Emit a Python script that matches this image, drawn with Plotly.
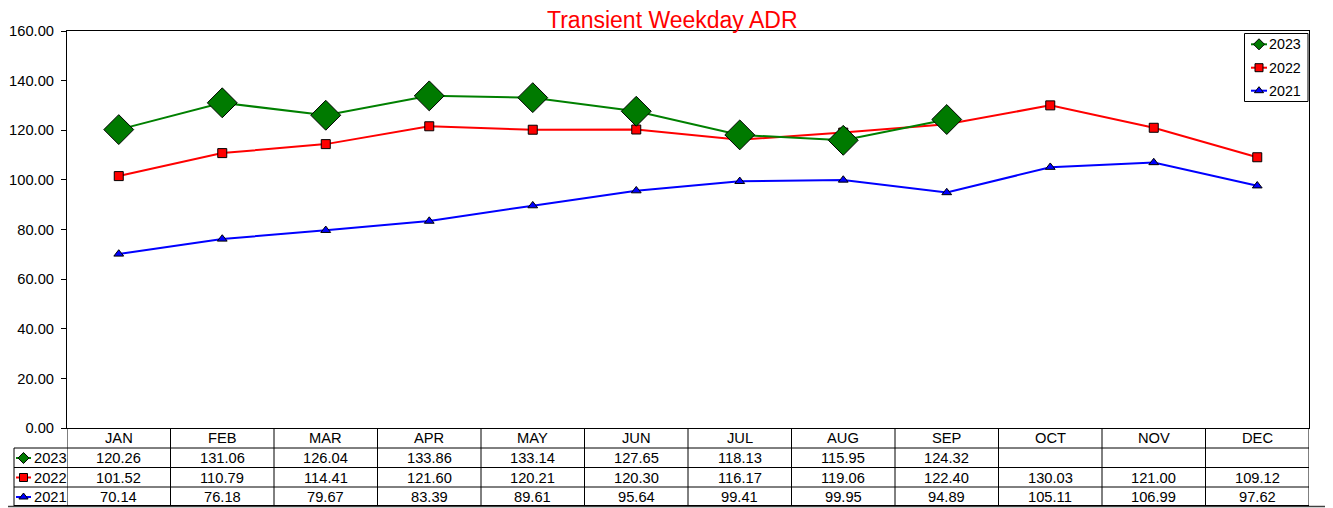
import plotly.graph_objects as go

# ---------------- data ----------------
months = ["JAN", "FEB", "MAR", "APR", "MAY", "JUN", "JUL", "AUG", "SEP", "OCT", "NOV", "DEC"]
years = ["2023", "2022", "2021"]
adr_2023 = [120.26, 131.06, 126.04, 133.86, 133.14, 127.65, 118.13, 115.95, 124.32]
adr_2022 = [101.52, 110.79, 114.41, 121.60, 120.21, 120.30, 116.17, 119.06, 122.40, 130.03, 121.00, 109.12]
adr_2021 = [70.14, 76.18, 79.67, 83.39, 89.61, 95.64, 99.41, 99.95, 94.89, 105.11, 106.99, 97.62]
title_text = "Transient Weekday ADR"

# ---------------- styles ----------------
VW, VH = 1333, 508           # browser window
OFF = 8                      # page body margin
W, H = VW - OFF, VH - OFF    # figure size so it fits the window exactly
PL, PR, PT, PB = 67, 1309, 31, 428     # plot area in window pixels
FONT = "Liberation Sans, Arial, sans-serif"
FS = 14.7

styles = {
    "2023": dict(color="#008000", fill="#007A00", symbol="diamond", size=23, key_size=8.5),
    "2022": dict(color="#FF0000", fill="#FF0000", symbol="square", size=9, key_size=8),
    "2021": dict(color="#0000FF", fill="#0000FF", symbol="triangle-up", size=8.5, key_size=8),
}
series = {"2023": adr_2023, "2022": adr_2022, "2021": adr_2021}

fig = go.Figure()

# data traces on main axes
for yr in ["2021", "2022", "2023"]:
    s = styles[yr]
    vals = series[yr]
    fig.add_trace(go.Scatter(
        x=months[:len(vals)], y=vals, mode="lines+markers", name=yr,
        line=dict(color=s["color"], width=2),
        marker=dict(symbol=s["symbol"], size=s["size"], color=s["fill"],
                    line=dict(color="#000000", width=1)),
        showlegend=False, xaxis="x", yaxis="y", cliponaxis=False,
    ))

# helper for key glyphs (window-pixel overlay axes)
def add_key(yr, x0, x1, yc):
    s = styles[yr]
    xm = (x0 + x1) / 2
    fig.add_trace(go.Scatter(
        x=[x0, x1], y=[yc, yc], mode="lines", line=dict(color=s["color"], width=2),
        showlegend=False, hoverinfo="skip", xaxis="x2", yaxis="y2", cliponaxis=False))
    fig.add_trace(go.Scatter(
        x=[xm], y=[yc], mode="markers",
        marker=dict(symbol=s["symbol"], size=s["key_size"], color=s["fill"],
                    line=dict(color="#000000", width=1)),
        showlegend=False, hoverinfo="skip", xaxis="x2", yaxis="y2", cliponaxis=False))

shapes = []
annotations = []

# outer chart border (bottom edge visible)
shapes.append(dict(type="line", xref="x2", yref="y2", x0=OFF, x1=VW, y0=506.5, y1=506.5,
                   line=dict(color="#404040", width=1.5), layer="below"))

# legend box (top right)
shapes.append(dict(type="rect", xref="x2", yref="y2", x0=1244.5, x1=1308, y0=33.5, y1=101.5,
                   line=dict(color="#000000", width=1), fillcolor="white", layer="below"))
leg_y = {"2023": 44.3, "2022": 67.7, "2021": 90.7}
for yr in years:
    add_key(yr, 1251, 1267, leg_y[yr])
    annotations.append(dict(xref="x2", yref="y2", x=1266.5, y=leg_y[yr], text=yr, showarrow=False,
                            xanchor="left", yanchor="middle", font=dict(family=FONT, size=14.3, color="black")))

# ---------------- data table ----------------
row_centers = {"2023": 458, "2022": 477.5, "2021": 497}
for yy in [448, 467.5, 487, 505.5]:
    shapes.append(dict(type="line", xref="x2", yref="y2", x0=14, x1=PR, y0=yy, y1=yy,
                       line=dict(color="black", width=1)))
# vertical lines (category boundaries)
for k in range(len(months) + 1):
    shapes.append(dict(type="line", xref="x", yref="y2", x0=k - 0.5, x1=k - 0.5, y0=428, y1=506,
                       line=dict(color="black", width=1)))
shapes.append(dict(type="line", xref="x2", yref="y2", x0=14, x1=14, y0=448, y1=506,
                   line=dict(color="black", width=1)))

# header months
for i, m in enumerate(months):
    annotations.append(dict(xref="x", yref="y2", x=i, y=438, text=m, showarrow=False,
                            xanchor="center", yanchor="middle", font=dict(family=FONT, size=FS, color="black")))
# values
for yr in years:
    vals = series[yr]
    for i, v in enumerate(vals):
        annotations.append(dict(xref="x", yref="y2", x=i, y=row_centers[yr], text=f"{v:.2f}",
                                showarrow=False, xanchor="center", yanchor="middle",
                                font=dict(family=FONT, size=FS, color="black")))
    add_key(yr, 16, 31, row_centers[yr])
    annotations.append(dict(xref="x2", yref="y2", x=31.5, y=row_centers[yr], text=yr, showarrow=False,
                            xanchor="left", yanchor="middle", font=dict(family=FONT, size=FS, color="black")))

# title
annotations.append(dict(xref="x2", yref="y2", x=672.5, y=20, text=title_text, showarrow=False,
                        xanchor="center", yanchor="middle",
                        font=dict(family=FONT, size=23, color="#FF0000")))

fig.update_layout(
    width=W, height=H,
    margin=dict(l=0, r=0, t=0, b=0, pad=0),
    autosize=False,
    paper_bgcolor="white", plot_bgcolor="rgba(0,0,0,0)",
    showlegend=False,
    xaxis=dict(domain=[(PL - OFF) / W, (PR - OFF) / W], type="category", categoryorder="array",
               categoryarray=months, range=[-0.5, 11.5], showticklabels=False, ticks="",
               showgrid=False, zeroline=False, showline=True, mirror=True, linecolor="black",
               linewidth=1, anchor="y", automargin=False),
    yaxis=dict(domain=[(VH - PB) / H, (VH - PT) / H], range=[0, 160], dtick=20, tickformat=".2f",
               ticks="outside", ticklen=5, tickcolor="black", tickwidth=1, ticklabelstandoff=4,
               showgrid=False, zeroline=False, showline=True, mirror=True, linecolor="black",
               linewidth=1, tickfont=dict(family=FONT, size=FS, color="black"), anchor="x",
               automargin=False),
    xaxis2=dict(domain=[0, 1], range=[OFF, VW], visible=False, anchor="y2", fixedrange=True,
                automargin=False),
    yaxis2=dict(domain=[0, 1], range=[VH, OFF], visible=False, anchor="x2", fixedrange=True,
                automargin=False),
    shapes=shapes,
    annotations=annotations,
)

fig.write_html("out.html")
